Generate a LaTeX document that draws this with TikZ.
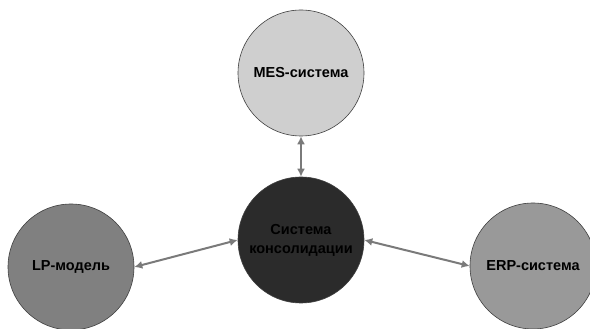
\documentclass[tikz,border=0pt]{standalone}
\usepackage{fontspec}
\setmainfont{Liberation Sans}
\usetikzlibrary{positioning,arrows.meta}
\tikzstyle{link}=[arrows={Latex[length=8pt,width=8pt]-Latex[length=8pt,width=8pt]},draw=black!52,line width=2pt]
\tikzstyle{unit}=[circle,draw=black!75,line width=0.6pt,
    minimum size=126pt,inner sep=0pt,align=center,
    font=\bfseries\fontsize{14.5}{19}\selectfont]
\colorlet{mesfill}{black!19}
\colorlet{corefill}{black!83}
\colorlet{lpfill}{black!50}
\colorlet{erpfill}{black!40}

\begin{document}
\begin{tikzpicture}[x=1pt,y=1pt]
    \useasboundingbox (0,0) rectangle (590,329);
    \node[unit, fill=mesfill] (mes) at (301,256) {MES-система};
    \node[unit, fill=corefill] (core) at (301,89) {Система\\консолидации};
    \node[unit, fill=lpfill] (lp) at (71,62) {LP-модель};
    \node[unit, fill=erpfill] (erp) at (533,63) {ERP-система};
    \draw[link] (mes) -- (core);
    \draw[link] (lp.east) -- (core.west);
    \draw[link] (core.east) -- (erp.west);
\end{tikzpicture}
\end{document}
